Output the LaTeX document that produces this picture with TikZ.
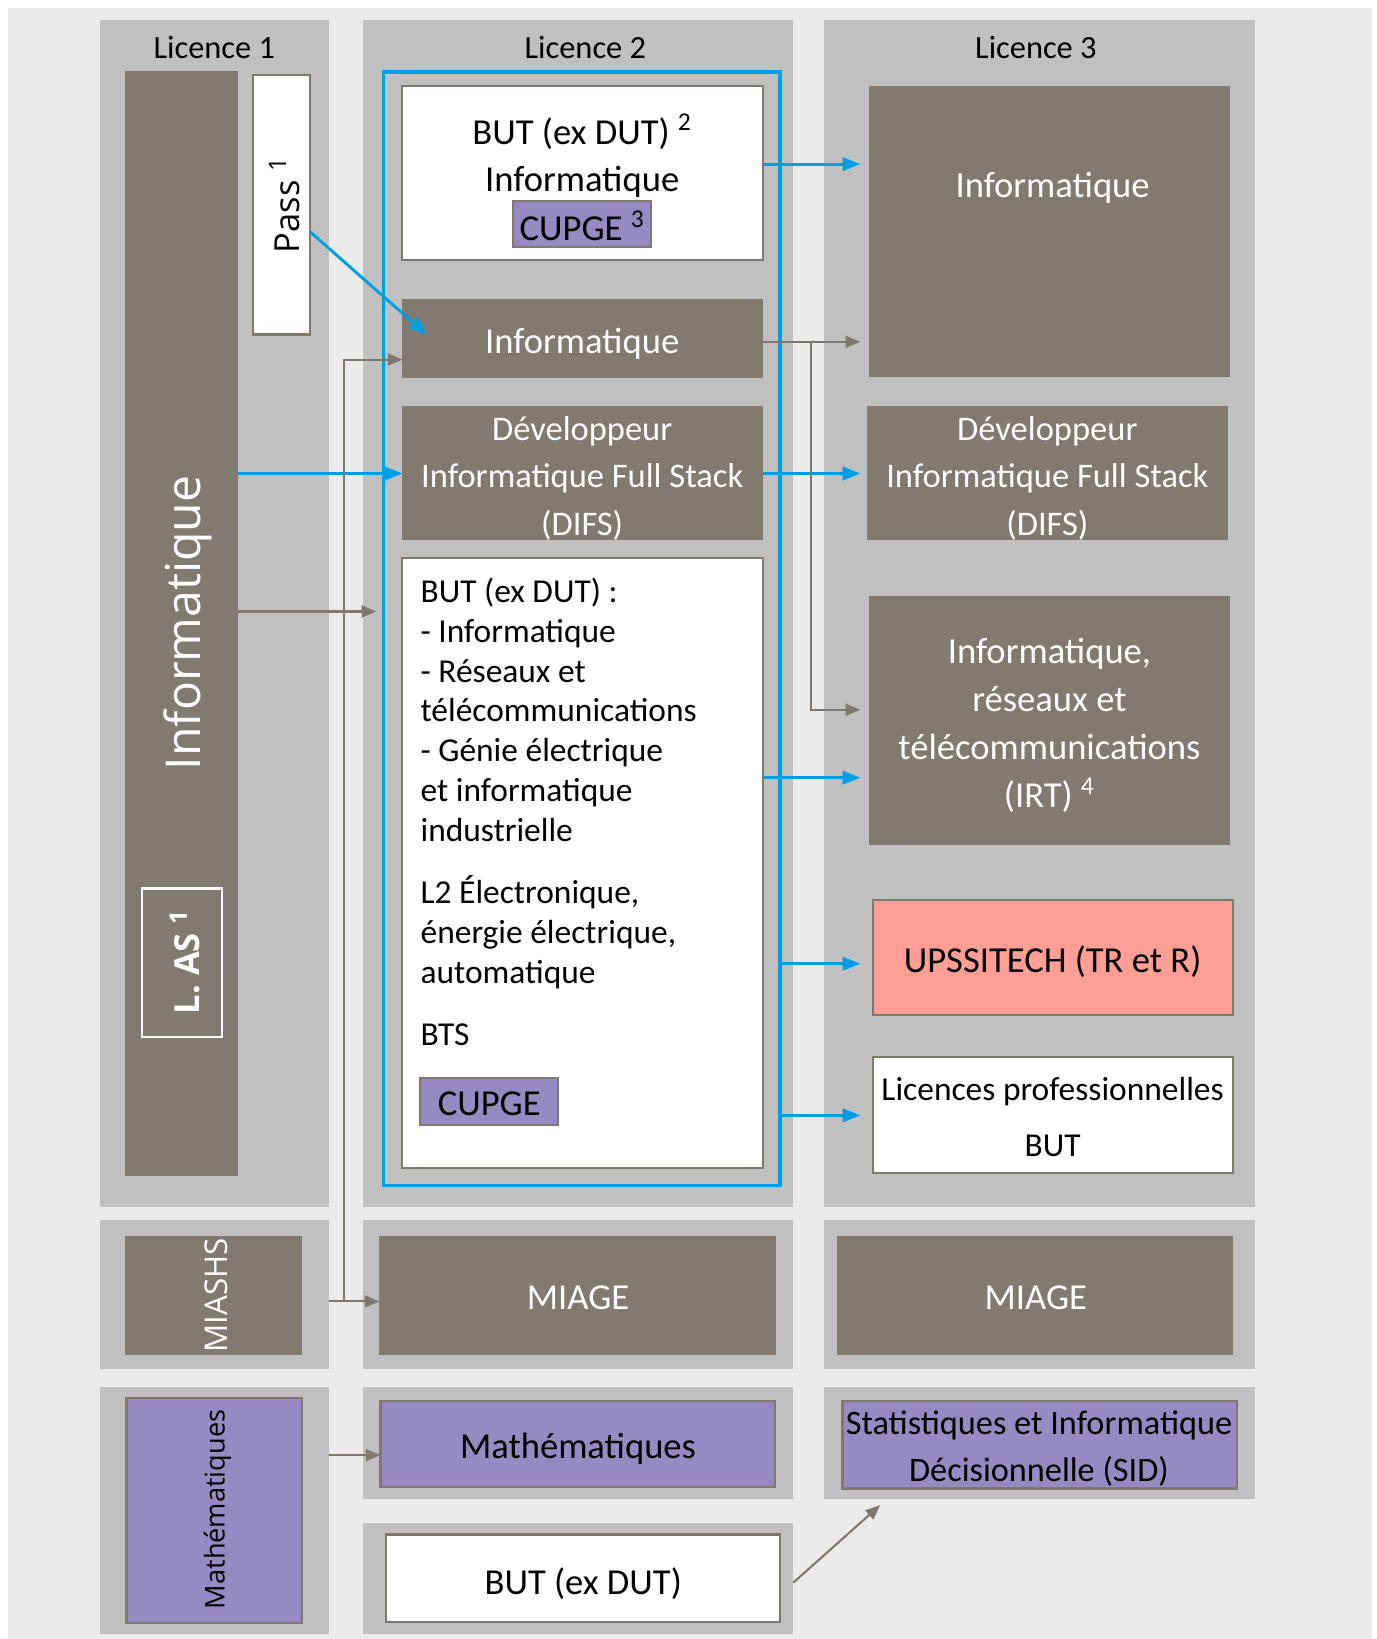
\documentclass[tikz,border=0pt]{standalone}
\usepackage{fontspec}
\setmainfont{Carlito}
\newfontfamily\vfont{Open Sans}
\usetikzlibrary{arrows.meta}
\definecolor{bgc}{HTML}{EBEBEB}
\definecolor{panelc}{HTML}{C0C0C0}
\definecolor{brownc}{HTML}{807A70}
\definecolor{purplec}{HTML}{958AC2}
\definecolor{salmonc}{HTML}{FF9E94}
\definecolor{bluec}{HTML}{009FE3}
\definecolor{borderc}{HTML}{7F786E}
\newcommand\mkbox[6]{\node[#1, minimum width={(#5-#3)*0.5pt}, minimum height={(#6-#4)*0.5pt}, inner sep=0pt, outer sep=0pt] (#2) at ({(#3+#5)/2},{(#4+#6)/2}) {};}
\tikzset{
  panel/.style={fill=panelc, draw=none},
  brownbox/.style={fill=brownc, draw=none},
  whitebox/.style={fill=white, draw=borderc, line width=1pt},
  purplebox/.style={fill=purplec, draw=borderc, line width=1pt},
  salmonbox/.style={fill=salmonc, draw=borderc, line width=1pt},
  lbl/.style={inner sep=0pt, font=\fontsize{17.5}{21}\selectfont},
  wlbl/.style={lbl, text=white},
  head/.style={inner sep=0pt, font=\fontsize{15.5}{18}\selectfont},
  vlbl/.style={inner sep=0pt, rotate=90},
  barr/.style={draw=bluec, line width=1.4pt, -{Triangle[length=8.5pt,width=6.4pt]}},
  garr/.style={draw=borderc, line width=1pt, -{Triangle[length=7pt,width=5.7pt]}},
}
\begin{document}
\begin{tikzpicture}[x=0.5pt,y=-0.5pt]
\useasboundingbox (0,0) rectangle (1317,1568);
\fill[white] (0,0) rectangle (1317,1568);
\fill[bgc] (8,8) rectangle (1313,1568);
% panels
\mkbox{panel}{p1a}{96}{19}{315}{1155}
\mkbox{panel}{p2a}{347}{19}{759}{1155}
\mkbox{panel}{p3a}{788}{19}{1201}{1155}
\mkbox{panel}{p1b}{96}{1167}{315}{1310}
\mkbox{panel}{p2b}{347}{1167}{759}{1310}
\mkbox{panel}{p3b}{788}{1167}{1201}{1310}
\mkbox{panel}{p1c}{96}{1327}{315}{1563}
\mkbox{panel}{p2c}{347}{1327}{759}{1434}
\mkbox{panel}{p2d}{347}{1457}{759}{1563}
\mkbox{panel}{p3c}{788}{1327}{1201}{1434}
% headers
\node[head] (h1) at (205,45) {Licence 1};
\node[head] (h2) at (560,45) {Licence 2};
\node[head] (h3) at (991,45) {Licence 3};
% Licence 1
\mkbox{brownbox}{infobar}{120}{68}{228}{1125}
\node[vlbl, text=white, font=\vfont\fontsize{23}{27}\selectfont] (tinfobar) at (180,596) {Informatique};
\mkbox{whitebox}{pass}{242}{72}{297}{320}
\node[vlbl, font=\vfont\fontsize{16.5}{20}\selectfont] (tpass) at (272,196) {Pass \textsuperscript{1}};
\mkbox{draw=white, line width=1pt}{las}{136}{850}{212}{992}
\node[vlbl, text=white, font=\vfont\bfseries\fontsize{16.5}{20}\selectfont] (tlas) at (177,920) {L. AS \textsuperscript{1}};
% Licence 2
\mkbox{draw=bluec, line width=1.75pt}{frame}{367}{69}{746}{1134}
\mkbox{whitebox}{but2}{385}{82}{730}{249}
\node[lbl] (tbut2) at (557,126) {BUT (ex DUT) \textsuperscript{2}};
\node[lbl] (tbut2b) at (557,174) {Informatique};
\mkbox{purplebox}{cupge1}{491}{192}{623}{236}
\node[lbl] (tcupge1) at (557,216) {CUPGE \textsuperscript{3}};
\mkbox{brownbox}{l2info}{385}{286}{730}{362}
\node[wlbl] (tl2info) at (557,329) {Informatique};
\mkbox{brownbox}{difs2}{385}{388}{730}{517}
\node[wlbl, align=center, font=\fontsize{16.5}{22.75}\selectfont] (tdifs2) at (557,457.5) {Développeur\\Informatique Full Stack\\(DIFS)};
\mkbox{whitebox}{butlist}{385}{534}{730}{1117}
\node[lbl, align=left, anchor=west, font=\fontsize{16}{19}\selectfont] (tlist1) at (402,679) {BUT (ex DUT) :\\- Informatique\\- Réseaux et\\télécommunications\\- Génie électrique\\et informatique\\industrielle};
\node[lbl, align=left, anchor=west, font=\fontsize{16}{19}\selectfont] (tlist2) at (402,892) {L2 Électronique,\\énergie électrique,\\automatique};
\node[lbl, anchor=west, font=\fontsize{16}{19}\selectfont] (tlist3) at (402,990) {BTS};
\mkbox{purplebox}{cupge2}{402}{1031}{534}{1076}
\node[lbl] (tcupge2) at (468,1056) {CUPGE};
% Licence 3
\mkbox{brownbox}{l3info}{831}{82}{1177}{361}
\node[wlbl] (tl3info) at (1007,180) {Informatique};
\mkbox{brownbox}{difs3}{829}{388}{1175}{517}
\node[wlbl, align=center, font=\fontsize{16.5}{22.75}\selectfont] (tdifs3) at (1002,457.5) {Développeur\\Informatique Full Stack\\(DIFS)};
\mkbox{brownbox}{irt}{831}{570}{1177}{808}
\node[wlbl, align=center, font=\fontsize{17.5}{23}\selectfont] (tirt) at (1004,694) {Informatique,\\réseaux et\\télécommunications\\(IRT) \textsuperscript{4}};
\mkbox{salmonbox}{ups}{835}{861}{1180}{971}
\node[lbl] (tups) at (1007,920) {UPSSITECH (TR et R)};
\mkbox{whitebox}{lp}{835}{1011}{1180}{1122}
\node[lbl, font=\fontsize{16}{19}\selectfont] (tlp1) at (1007,1044) {Licences professionnelles};
\node[lbl, font=\fontsize{16}{19}\selectfont] (tlp2) at (1007,1096) {BUT};
% row 2
\mkbox{brownbox}{miashs}{120}{1182}{289}{1296}
\node[vlbl, text=white, font=\vfont\fontsize{15}{18}\selectfont] (tmiashs) at (207,1239) {MIASHS};
\mkbox{brownbox}{miage2}{363}{1182}{742}{1296}
\node[wlbl] (tmiage2) at (553,1242) {MIAGE};
\mkbox{brownbox}{miage3}{801}{1182}{1180}{1296}
\node[wlbl] (tmiage3) at (991,1242) {MIAGE};
% row 3
\mkbox{purplebox}{math1}{121}{1337}{289}{1553}
\node[vlbl, font=\vfont\fontsize{13}{16}\selectfont] (tmath1) at (208,1444) {Mathématiques};
\mkbox{purplebox}{math2}{364}{1340}{741}{1423}
\node[lbl] (tmath2) at (553,1386) {Mathématiques};
\mkbox{purplebox}{sid}{806}{1340}{1183}{1424}
\node[lbl, align=center, font=\fontsize{16.4}{22.5}\selectfont] (tsid) at (994,1386) {Statistiques et Informatique\\Décisionnelle (SID)};
\mkbox{whitebox}{butb}{369}{1468}{746}{1552}
\node[lbl] (tbutb) at (558,1515) {BUT (ex DUT)};
% helper levels
\coordinate (r157) at (0,157);
\coordinate (r327) at (0,327);
\coordinate (r344) at (0,344);
\coordinate (r453) at (0,453);
\coordinate (r585) at (0,585);
\coordinate (r679) at (0,679);
\coordinate (r744) at (0,744);
\coordinate (r922) at (0,922);
\coordinate (r1067) at (0,1067);
\coordinate (r1245) at (0,1245);
\coordinate (r1392) at (0,1392);
\coordinate (r1514) at (0,1514);
\coordinate (br) at (776,327);
\coordinate (vb) at (329,1245);
\coordinate (sidtip) at (842,1440);
% blue connectors
\draw[barr] ([yshift=-13pt]pass.east) -- ([xshift=11.5pt,yshift=2pt]l2info.west);
\draw[barr] (infobar.east |- r453) -- (difs2.west |- r453);
\draw[barr, shorten >=4pt] (but2.east |- r157) -- (l3info.west |- r157);
\draw[barr, shorten >=3pt] (difs2.east |- r453) -- (difs3.west |- r453);
\draw[barr, shorten >=4pt] (butlist.east |- r744) -- (irt.west |- r744);
\draw[barr, shorten >=6pt] (frame.east |- r922) -- (ups.west |- r922);
\draw[barr, shorten >=6pt] (frame.east |- r1067) -- (lp.west |- r1067);
% grey connectors
\draw[garr, shorten >=4pt] (l2info.east |- r327) -- (l3info.west |- r327);
\draw[garr, shorten >=4pt] (br) |- (irt.west |- r679);
\draw[garr, shorten >=3.5pt] (infobar.east |- r585) -- (frame.west |- r585);
\draw[garr] (p1b.east |- r1245) -- (miage2.west |- r1245);
\draw[garr] (vb) |- (l2info.west |- r344);
\draw[garr] (p1c.east |- r1392) -- (math2.west |- r1392);
\draw[garr] (p2d.east |- r1514) -- (sidtip);
\end{tikzpicture}
\end{document}
